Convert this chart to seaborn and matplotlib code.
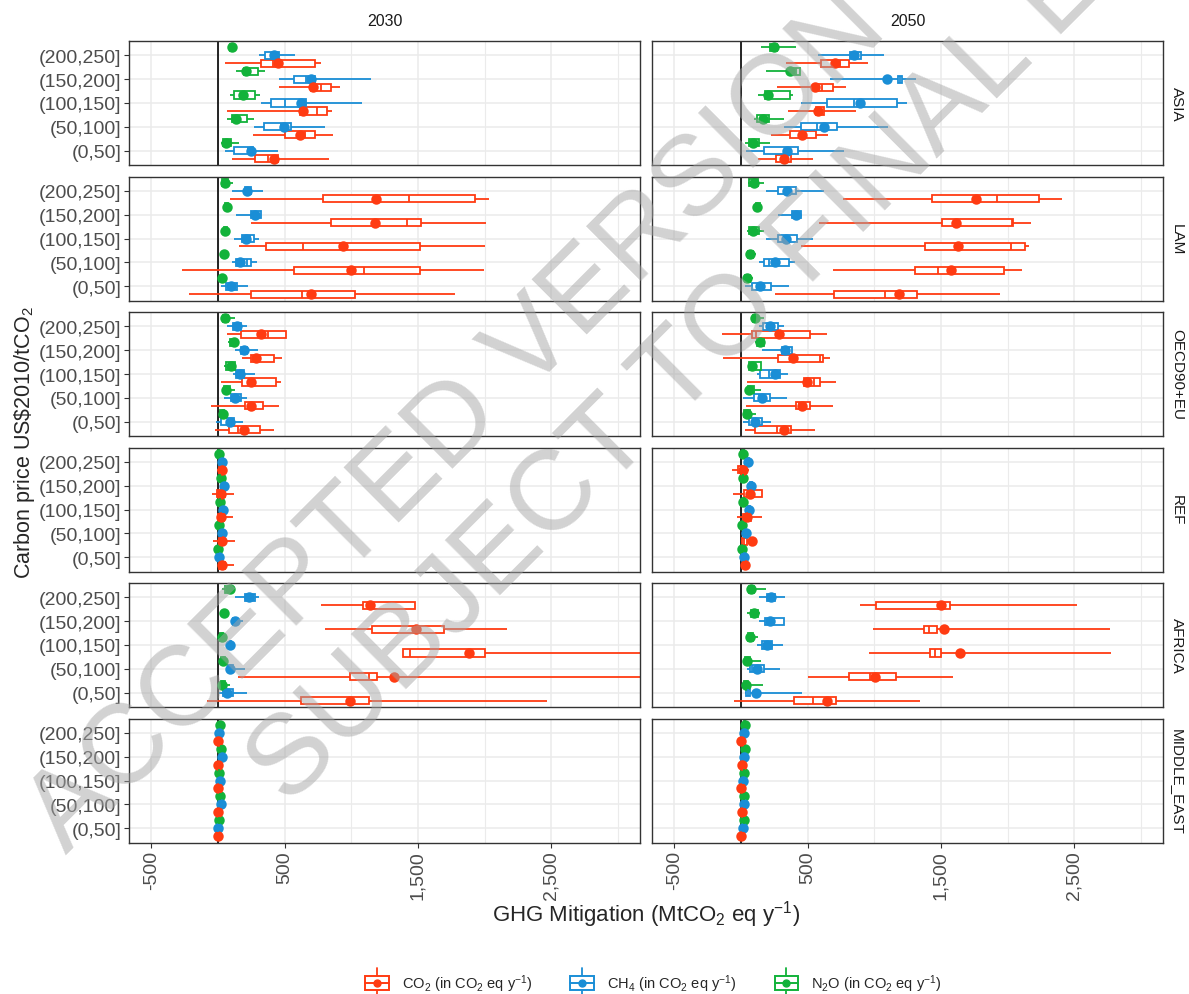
import numpy as np
import pandas as pd
import matplotlib
matplotlib.use("Agg")
import matplotlib.pyplot as plt
import seaborn as sns
from matplotlib.legend_handler import HandlerBase
from matplotlib.patches import Rectangle
from matplotlib.lines import Line2D

#%% categories
REGIONS = ["ASIA", "LAM", "OECD90+EU", "REF", "AFRICA", "MIDDLE_EAST"]
YEARS = ["2030", "2050"]
PRICES = ["(0,50]", "(50,100]", "(100,150]", "(150,200]", "(200,250]"]
GASES = ["CO2", "CH4", "N2O"]
GAS_LABELS = [r"CO$_2$ (in CO$_2$ eq y$^{-1}$)",
              r"CH$_4$ (in CO$_2$ eq y$^{-1}$)",
              r"N$_2$O (in CO$_2$ eq y$^{-1}$)"]
XTICKS = [-500, 500, 1500, 2500]
XTICK_LABELS = ["-500", "500", "1,500", "2,500"]
XMINOR = [0, 1000, 2000, 3000]

#%% box stats per price bin, (0,50] first: [low, q1, median, q3, high, mean]
ASIA_2030_CO2 = [[107, 275, 375, 450, 832, 417], [262, 500, 650, 725, 862, 617], [70, 612, 745, 820, 855, 637],
                 [455, 695, 775, 845, 917, 712], [50, 325, 412, 730, 775, 450]]
ASIA_2030_CH4 = [[50, 120, 225, 262, 450, 250], [267, 345, 475, 550, 800, 492], [320, 400, 500, 662, 1080, 625],
                 [455, 567, 662, 725, 1145, 700], [307, 350, 400, 457, 575, 420]]
ASIA_2030_N2O = [[20, 37, 50, 100, 157, 62], [67, 107, 150, 220, 267, 137], [87, 120, 200, 280, 317, 187],
                 [132, 195, 225, 300, 350, 212], [80, 90, 100, 110, 125, 105]]
ASIA_2050_CO2 = [[127, 265, 307, 375, 540, 320], [227, 365, 457, 562, 652, 457], [352, 565, 595, 620, 865, 575],
                 [270, 570, 607, 687, 787, 552], [340, 600, 745, 812, 950, 707]]
ASIA_2050_CH4 = [[40, 170, 345, 427, 770, 345], [325, 452, 570, 720, 1102, 625], [450, 645, 845, 1170, 1245, 890],
                 [665, 1175, 1190, 1207, 1312, 1097], [575, 820, 870, 900, 1075, 850]]
ASIA_2050_N2O = [[27, 62, 100, 132, 220, 90], [95, 120, 160, 207, 320, 165], [125, 177, 227, 365, 390, 200],
                 [187, 382, 410, 440, 445, 365], [152, 220, 245, 270, 415, 245]]

LAM_2030_CO2 = [[-217, 250, 630, 1030, 1780, 700], [-267, 570, 1095, 1517, 1995, 1000], [157, 362, 637, 1517, 2005, 937],
                [250, 845, 1420, 1520, 2012, 1180], [92, 787, 1432, 1930, 2032, 1182]]
LAM_2030_CH4 = [[20, 62, 95, 145, 225, 100], [107, 132, 217, 250, 292, 162], [117, 182, 242, 267, 305, 212],
                [132, 250, 270, 320, 320, 275], [105, 200, 220, 250, 337, 217]]
LAM_2030_N2O = [[15, 20, 30, 40, 70, 30], [30, 35, 40, 60, 80, 42], [40, 45, 55, 70, 85, 55],
                [40, 50, 60, 75, 100, 67], [25, 32, 50, 75, 112, 50]]
LAM_2050_CO2 = [[252, 695, 1082, 1320, 1945, 1182], [690, 1307, 1475, 1975, 2107, 1577], [452, 1382, 2027, 2132, 2162, 1625],
                [587, 1507, 2030, 2040, 2175, 1612], [762, 1432, 1920, 2232, 2407, 1765]]
LAM_2050_CH4 = [[27, 82, 157, 227, 357, 145], [137, 170, 207, 357, 407, 252], [187, 277, 332, 420, 540, 340],
                [277, 382, 412, 452, 452, 412], [187, 277, 345, 412, 620, 345]]
LAM_2050_N2O = [[20, 30, 45, 70, 90, 45], [35, 50, 65, 90, 110, 70], [45, 57, 87, 132, 170, 87],
                [110, 115, 130, 145, 145, 120], [52, 62, 95, 125, 170, 95]]

OECD_2030_CO2 = [[-20, 82, 150, 312, 420, 195], [-50, 205, 250, 337, 455, 245], [20, 182, 232, 432, 475, 250],
                 [182, 245, 275, 420, 482, 287], [70, 175, 375, 512, 512, 320]]
OECD_2030_CH4 = [[-12, 20, 80, 117, 187, 87], [45, 95, 120, 175, 220, 130], [112, 137, 165, 195, 275, 167],
                 [130, 170, 195, 220, 300, 195], [70, 112, 140, 175, 220, 145]]
OECD_2030_N2O = [[7, 15, 30, 45, 75, 37], [30, 45, 62, 90, 125, 62], [42, 62, 85, 125, 137, 100],
                 [75, 90, 110, 130, 155, 120], [30, 37, 50, 75, 130, 55]]
OECD_2050_CO2 = [[32, 107, 270, 377, 557, 320], [37, 412, 432, 515, 690, 457], [45, 470, 545, 595, 715, 495],
                 [-135, 277, 590, 615, 670, 387], [-142, 82, 115, 520, 645, 287]]
OECD_2050_CH4 = [[12, 62, 107, 157, 225, 107], [12, 100, 137, 215, 345, 160], [120, 145, 207, 295, 352, 257],
                 [157, 307, 357, 382, 382, 332], [137, 165, 220, 275, 320, 215]]
OECD_2050_N2O = [[12, 20, 40, 70, 115, 45], [32, 50, 62, 95, 150, 62], [62, 62, 82, 152, 152, 82],
                 [107, 120, 140, 170, 170, 140], [77, 90, 100, 120, 175, 102]]

REF_2030_CO2 = [[-2, 5, 20, 50, 120, 27], [-35, 5, 25, 45, 127, 32], [-10, 0, 20, 45, 115, 20],
                [-42, -10, 15, 50, 120, 20], [-10, 10, 25, 45, 65, 27]]
REF_2030_CH4 = [[0, 5, 10, 15, 20, 10], [15, 20, 25, 32, 40, 27], [25, 30, 35, 40, 50, 35],
                [35, 40, 45, 52, 60, 47], [20, 25, 30, 35, 45, 32]]
REF_2030_N2O = [[-10, -5, 0, 3, 8, -2], [0, 3, 6, 10, 15, 7], [5, 10, 15, 20, 25, 15],
                [5, 12, 18, 25, 30, 20], [0, 3, 5, 8, 12, 7]]
REF_2050_CO2 = [[15, 20, 30, 40, 50, 30], [0, 5, 20, 42, 117, 85], [-32, 17, 45, 72, 155, 47],
                [-62, 22, 60, 160, 160, 67], [-70, -20, 10, 40, 62, 12]]
REF_2050_CH4 = [[10, 15, 22, 30, 35, 22], [25, 30, 37, 45, 50, 37], [50, 55, 62, 70, 75, 62],
                [60, 65, 72, 80, 85, 72], [45, 50, 55, 60, 65, 55]]
REF_2050_N2O = [[-5, 0, 5, 10, 15, 5], [0, 3, 7, 12, 15, 7], [8, 12, 17, 22, 28, 17],
                [8, 12, 17, 22, 28, 17], [5, 10, 15, 20, 25, 17]]

AFRICA_2030_CO2 = [[-82, 625, 987, 1130, 2470, 992], [150, 992, 1130, 1192, 3500, 1320], [1387, 1387, 1437, 2000, 3500, 1882],
                   [800, 1157, 1475, 1692, 2170, 1487], [775, 1087, 1130, 1475, 1475, 1137]]
AFRICA_2030_CH4 = [[7, 37, 62, 112, 220, 70], [62, 75, 87, 112, 205, 87], [85, 90, 95, 100, 110, 92],
                   [100, 115, 125, 135, 187, 125], [125, 200, 262, 275, 307, 230]]
AFRICA_2030_N2O = [[12, 20, 30, 50, 87, 32], [17, 25, 37, 50, 75, 37], [10, 15, 30, 40, 50, 30],
                   [30, 40, 45, 55, 65, 45], [32, 50, 80, 95, 120, 87]]
AFRICA_2050_CO2 = [[-55, 395, 537, 712, 1345, 645], [502, 807, 970, 1162, 1590, 1007], [957, 1420, 1457, 1500, 2775, 1640],
                   [987, 1375, 1407, 1470, 2770, 1525], [895, 1012, 1482, 1565, 2520, 1502]]
AFRICA_2050_CH4 = [[27, 40, 50, 65, 457, 112], [45, 70, 82, 170, 295, 120], [120, 157, 182, 232, 315, 195],
                   [137, 177, 232, 325, 325, 220], [137, 195, 225, 257, 327, 225]]
AFRICA_2050_N2O = [[15, 25, 37, 55, 165, 37], [20, 30, 45, 70, 150, 45], [40, 55, 70, 90, 130, 70],
                   [45, 75, 100, 125, 145, 100], [50, 62, 75, 100, 187, 75]]

ME_2030_CO2 = [[0, 1, 2, 3, 5, 2], [0, 1, 2, 3, 5, 2], [0, 1, 2, 3, 5, 2],
               [-5, -3, -2, 0, 2, -2], [0, 1, 2, 3, 5, 2]]
ME_2030_CH4 = [[0, 1, 2, 3, 5, 2], [15, 18, 20, 22, 25, 20], [10, 12, 15, 17, 20, 15],
               [20, 24, 27, 30, 33, 27], [3, 5, 7, 9, 12, 7]]
ME_2030_N2O = [[3, 5, 7, 9, 12, 7], [10, 12, 15, 17, 20, 15], [6, 8, 10, 12, 14, 10],
               [15, 18, 20, 22, 25, 20], [10, 12, 15, 17, 20, 15]]
ME_2050_CO2 = [[0, 2, 4, 6, 8, 4], [1, 3, 5, 7, 9, 5], [-2, 0, 2, 4, 6, 2],
               [2, 4, 6, 8, 10, 6], [0, 2, 3, 5, 7, 3]]
ME_2050_CH4 = [[8, 12, 15, 18, 22, 15], [12, 16, 20, 24, 28, 20], [10, 14, 18, 22, 26, 18],
               [15, 20, 25, 28, 32, 25], [12, 15, 20, 23, 27, 20]]
ME_2050_N2O = [[15, 18, 22, 26, 30, 22], [18, 22, 26, 30, 34, 26], [15, 20, 24, 28, 32, 24],
               [20, 24, 28, 32, 36, 28], [18, 22, 27, 31, 35, 27]]

SERIES = {
    ("ASIA", "2030"): (ASIA_2030_CO2, ASIA_2030_CH4, ASIA_2030_N2O),
    ("ASIA", "2050"): (ASIA_2050_CO2, ASIA_2050_CH4, ASIA_2050_N2O),
    ("LAM", "2030"): (LAM_2030_CO2, LAM_2030_CH4, LAM_2030_N2O),
    ("LAM", "2050"): (LAM_2050_CO2, LAM_2050_CH4, LAM_2050_N2O),
    ("OECD90+EU", "2030"): (OECD_2030_CO2, OECD_2030_CH4, OECD_2030_N2O),
    ("OECD90+EU", "2050"): (OECD_2050_CO2, OECD_2050_CH4, OECD_2050_N2O),
    ("REF", "2030"): (REF_2030_CO2, REF_2030_CH4, REF_2030_N2O),
    ("REF", "2050"): (REF_2050_CO2, REF_2050_CH4, REF_2050_N2O),
    ("AFRICA", "2030"): (AFRICA_2030_CO2, AFRICA_2030_CH4, AFRICA_2030_N2O),
    ("AFRICA", "2050"): (AFRICA_2050_CO2, AFRICA_2050_CH4, AFRICA_2050_N2O),
    ("MIDDLE_EAST", "2030"): (ME_2030_CO2, ME_2030_CH4, ME_2030_N2O),
    ("MIDDLE_EAST", "2050"): (ME_2050_CO2, ME_2050_CH4, ME_2050_N2O),
}

#%% long tables: five values per box reproduce min / quartiles / max exactly
box_rows, mean_rows = [], []
for (region, year), gas_lists in SERIES.items():
    for gas, stats in zip(GASES, gas_lists):
        for price, st in zip(PRICES, stats):
            for v in st[:5]:
                box_rows.append((region, year, gas, price, v))
            mean_rows.append((region, year, gas, price, st[5]))
box_df = pd.DataFrame(box_rows, columns=["region", "year", "gas", "price", "value"])
mean_df = pd.DataFrame(mean_rows, columns=["region", "year", "gas", "price", "mean"])

GAS_COLORS = {"CO2": "#FF3B12", "CH4": "#1A8ED6", "N2O": "#12B23A"}
HUE_ORDER = ["N2O", "CH4", "CO2"]   # top to bottom inside a bin
PRICE_ORDER = PRICES[::-1]


class BoxKey(HandlerBase):
    def create_artists(self, legend, orig_handle, xdescent, ydescent, width, height, fontsize, trans):
        c = orig_handle.get_color()
        cx = -xdescent + width / 2
        cy = -ydescent + height / 2
        bw, bh = width * 0.8, height * 0.75
        whisk = Line2D([cx, cx], [cy - height * 0.75, cy + height * 0.75], color=c, lw=1.3, transform=trans)
        box = Rectangle((cx - bw / 2, cy - bh / 2), bw, bh, facecolor="white", edgecolor=c, lw=1.4, transform=trans)
        med = Line2D([cx - bw / 2, cx + bw / 2], [cy, cy], color=c, lw=1.4, transform=trans)
        dot = Line2D([cx], [cy], marker="o", color=c, markersize=5, transform=trans)
        return [whisk, box, med, dot]


#%%
sns.set_theme(style="white")
plt.rcParams["font.family"] = ["Liberation Sans", "DejaVu Sans"]
plt.rcParams["mathtext.fontset"] = "custom"
plt.rcParams["mathtext.rm"] = "Liberation Sans"
plt.rcParams["mathtext.it"] = "Liberation Sans:italic"
plt.rcParams["mathtext.default"] = "regular"

W, H = 1189, 995
fig = plt.figure(figsize=(W / 100, H / 100), dpi=100)
col_left = [129, 652]
pw, ph = 511, 124
white_pal = {g: "white" for g in GASES}

for i, region in enumerate(REGIONS):
    top = 42 + 135.5 * i
    for j, year in enumerate(YEARS):
        ax = fig.add_axes([col_left[j] / W, 1 - (top + ph) / H, pw / W, ph / H])
        sub = box_df[(box_df.region == region) & (box_df.year == year)]
        for gas in GASES:
            sns.boxplot(data=sub[sub.gas == gas], x="value", y="price", hue="gas",
                        order=PRICE_ORDER, hue_order=HUE_ORDER, palette=white_pal,
                        linecolor=GAS_COLORS[gas], dodge=True, width=1.0, gap=0.1,
                        whis=(0, 100), showcaps=False, linewidth=1.3, legend=False, ax=ax)
        msub = mean_df[(mean_df.region == region) & (mean_df.year == year)]
        sns.pointplot(data=msub, x="mean", y="price", hue="gas", order=PRICE_ORDER,
                      hue_order=HUE_ORDER, palette=GAS_COLORS, dodge=2 / 3,
                      linestyles="none", markers="o", errorbar=None, markersize=5.5,
                      legend=False, ax=ax)
        ax.axvline(0, color="black", lw=1.2, zorder=1.5)
        ax.set_xlim(-667, 3165)
        ax.set_ylim(4.6, -0.6)
        ax.set_xticks(XTICKS)
        ax.set_xticklabels(XTICK_LABELS, rotation=90)
        ax.set_xticks(XMINOR, minor=True)
        ax.set_axisbelow(True)
        ax.grid(True, which="major", color="#EBEBEB", lw=1.1)
        ax.grid(True, which="minor", axis="x", color="#EBEBEB", lw=0.8)
        ax.set_xlabel("")
        ax.set_ylabel("")
        for s in ax.spines.values():
            s.set_color("#333333")
            s.set_linewidth(1.0)
        ax.tick_params(axis="both", which="major", length=3.5, width=0.8, color="#333333",
                       labelcolor="#4D4D4D", labelsize=14, pad=2)
        ax.tick_params(axis="x", which="minor", length=0)
        ax.tick_params(axis="y", left=(j == 0), labelleft=(j == 0))
        ax.tick_params(axis="x", bottom=(i == len(REGIONS) - 1), labelbottom=(i == len(REGIONS) - 1))
        if j == 1:
            fig.text(1177 / W, 1 - (top + ph / 2) / H, region, rotation=-90, ha="center",
                     va="center", fontsize=11, color="#1A1A1A")
        if i == 0:
            fig.text((col_left[j] + pw / 2) / W, 1 - 22 / H, year, ha="center", va="center",
                     fontsize=11.5, color="#1A1A1A")

fig.text(646 / W, 1 - 915 / H, r"GHG Mitigation (MtCO$_2$ eq y$^{-1}$)", ha="center",
         va="center", fontsize=16)
fig.text(25 / W, 1 - 443 / H, r"Carbon price US\$2010/tCO$_2$", rotation=90, ha="center",
         va="center", fontsize=15.5)

handles = [Line2D([], [], color=GAS_COLORS[g]) for g in GASES]
fig.legend(handles, GAS_LABELS, handler_map={Line2D: BoxKey()}, loc="center",
           bbox_to_anchor=(652 / W, 1 - 984 / H), ncol=3, frameon=False, fontsize=10.5,
           handlelength=2.0, handleheight=1.7, columnspacing=2.4, handletextpad=0.7)

# watermark
wm = dict(ha="center", va="center", rotation=45, rotation_mode="anchor", fontsize=82,
          color="#A6A6A6", alpha=0.5, zorder=10)
fig.text(457 / W, 1 - 423 / H, "ACCEPTED VERSION", **wm)
fig.text(770 / W, 1 - 285 / H, "SUBJECT TO FINAL EDITS", **wm)

fig.savefig("out.png", dpi=100)
